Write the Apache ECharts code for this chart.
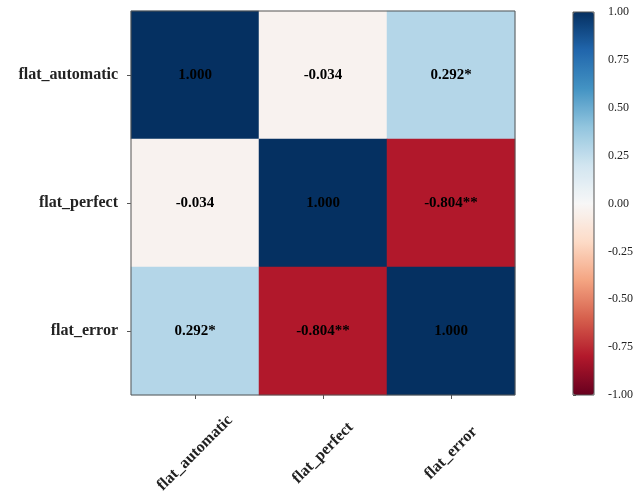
<!DOCTYPE html>
<html>
<head>
<meta charset="utf-8">
<script src="https://cdn.jsdelivr.net/npm/echarts@6/dist/echarts.min.js"></script>
<style>html,body{margin:0;padding:0;background:#fff}#c{width:638px;height:497px}</style>
</head>
<body>
<div id="c"></div>
<script>
const categories = ['flat_automatic', 'flat_perfect', 'flat_error'];
const corrAutomatic = [1.000, -0.034, 0.292];
const corrPerfect = [-0.034, 1.000, -0.804];
const corrError = [0.292, -0.804, 1.000];
const starsAutomatic = ['', '', '*'];
const starsPerfect = ['', '', '**'];
const starsError = ['*', '**', ''];
const colorbarMin = -1, colorbarMax = 1, colorbarStep = 0.25;
const rdbu = ['#67001f','#b2182b','#d6604d','#f4a582','#fddbc7','#f7f7f7','#d1e5f0','#92c5de','#4393c3','#2166ac','#053061'];

const rows = [corrAutomatic, corrPerfect, corrError];
const starRows = [starsAutomatic, starsPerfect, starsError];
const data = [];
rows.forEach((r, yi) => r.forEach((v, xi) => data.push({value: [xi, yi, v], stars: starRows[yi][xi]})));

const font = "'Liberation Serif','Times New Roman',serif";
const chart = echarts.init(document.getElementById('c'));
chart.setOption({
  animation: false,
  grid: [
    {left: 131, top: 11, width: 384, height: 384, show: true, borderColor: '#555', borderWidth: 1, backgroundColor: 'transparent', z: 10},
    {left: 573, top: 12, width: 21, height: 383, show: true, borderColor: '#555', borderWidth: 1, backgroundColor: 'transparent', z: 10}
  ],
  xAxis: [
    {type: 'category', data: categories, gridIndex: 0,
     axisLine: {show: false}, splitLine: {show: false},
     axisTick: {show: true, alignWithLabel: true, length: 4, lineStyle: {color: '#555'}},
     axisLabel: {rotate: 45, align: 'center', verticalAlign: 'middle', margin: 58, fontFamily: font, fontWeight: 'bold', fontSize: 16, color: '#222'}},
    {type: 'value', gridIndex: 1, show: false}
  ],
  yAxis: [
    {type: 'category', data: categories, inverse: true, gridIndex: 0,
     axisLine: {show: false}, splitLine: {show: false},
     axisTick: {show: true, alignWithLabel: true, length: 4, lineStyle: {color: '#555'}},
     axisLabel: {margin: 13, fontFamily: font, fontWeight: 'bold', fontSize: 16, color: '#222'}},
    {type: 'value', gridIndex: 1, position: 'right', min: colorbarMin, max: colorbarMax, interval: colorbarStep,
     axisLine: {show: false}, splitLine: {show: false},
     axisTick: {show: true, length: 3, lineStyle: {color: '#555'}},
     axisLabel: {margin: 14, fontFamily: font, fontSize: 12, color: '#222', formatter: v => v.toFixed(2)}}
  ],
  visualMap: {
    type: 'continuous', min: colorbarMin, max: colorbarMax, calculable: false,
    orient: 'vertical', left: 573, top: 12, itemWidth: 21, itemHeight: 383, padding: 0,
    text: null, showLabel: false, hoverLink: false,
    inRange: {color: rdbu}
  },
  series: [{
    type: 'heatmap', xAxisIndex: 0, yAxisIndex: 0, data: data,
    label: {show: true, fontFamily: font, fontWeight: 'bold', fontSize: 15, color: '#000',
      formatter: p => p.value[2].toFixed(3) + p.data.stars},
    itemStyle: {borderWidth: 0}
  }]
});
</script>
</body>
</html>
